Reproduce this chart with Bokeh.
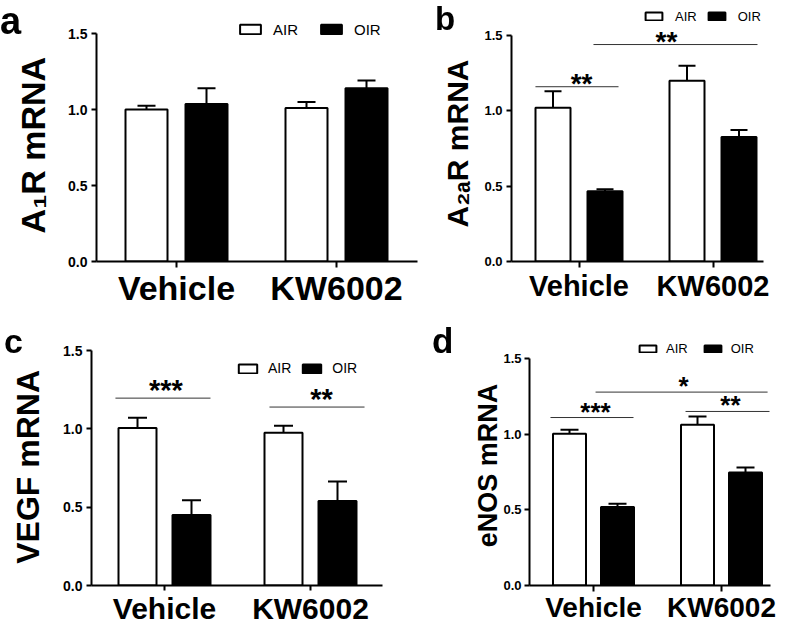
import numpy as np
from bokeh.plotting import figure
from bokeh.models import (Range1d, FixedTicker, NumeralTickFormatter, Legend, LegendItem,
                          ColumnDataSource, Whisker, TeeHead, Div)
from bokeh.layouts import column, row
from bokeh.core.properties import value
from bokeh.embed import file_html
from bokeh.resources import INLINE

FONT = "Liberation Sans"

# ---------------- data ----------------
categories = ["Vehicle", "KW6002"]
groups = ["AIR", "OIR"]
y_ticks = [0.0, 0.5, 1.0, 1.5]
panel_letters = ["a", "b", "c", "d"]
y_titles = ["A\u2081R mRNA", "A\u2082\u2090R mRNA", "VEGF mRNA", "eNOS mRNA"]

# panel a  (A1R mRNA)
a_air = [1.00, 1.01]
a_air_err = [1.024, 1.05]
a_oir = [1.037, 1.14]
a_oir_err = [1.14, 1.19]

# panel b  (A2AR mRNA)
b_air = [1.02, 1.20]
b_air_err = [1.13, 1.30]
b_oir = [0.467, 0.827]
b_oir_err = [0.48, 0.873]
b_sig_x0 = [-0.325, 0.108]
b_sig_x1 = [0.295, 1.332]
b_sig_y = [1.16, 1.44]
b_sig_xm = [0.019, 0.653]
b_sig_text = ["**", "**"]

# panel c  (VEGF mRNA)
c_air = [1.006, 0.975]
c_air_err = [1.07, 1.02]
c_oir = [0.45, 0.54]
c_oir_err = [0.544, 0.664]
c_sig_x0 = [-0.336, 0.719]
c_sig_x1 = [0.315, 1.37]
c_sig_y = [1.196, 1.139]
c_sig_xm = [0.01, 1.075]
c_sig_text = ["***", "**"]

# panel d  (eNOS mRNA)
d_air = [1.002, 1.063]
d_air_err = [1.03, 1.117]
d_oir = [0.518, 0.747]
d_oir_err = [0.54, 0.78]
d_sig_x0 = [-0.336, 0.016, 0.719]
d_sig_x1 = [0.3125, 1.36, 1.375]
d_sig_y = [1.11, 1.278, 1.15]
d_sig_xm = [0.016, 0.703, 1.07]
d_sig_text = ["***", "*", "**"]

# ---------------- layout (pixel geometry, page coordinates) ----------------
# ox/oy: canvas origin; fl/fr/ft: frame edges; y0/y15: pixel rows of 0 and 1.5
# (the frame bottom sits at y0); c0/c1: pixel columns of the two category ticks
# tpad: no-break spaces appended to the axis title to move it along the axis
SPEC_A = dict(ox=0, oy=0, w=430, h=311, fl=96, fr=417, ft=0, y0=261, y15=33,
              c0=176, c1=336, bar_w=42, off=30, cap=18,
              xfont=34, xstand=1, xtick=6, yfont=14, ystand=4,
              tfont=34, tstand=13, tpad=3,
              lfont=15, lbox=237, lcy=29, gw=26, gh=12, lst=10, lsp=20,
              star_font=28, star_off=0)
SPEC_B = dict(ox=430, oy=0, w=357, h=311, fl=511, fr=763, ft=0, y0=261, y15=35,
              c0=578.5, c1=712.5, bar_w=35, off=26, cap=17,
              xfont=29, xstand=2, xtick=6, yfont=13, ystand=4,
              tfont=30, tstand=7, tpad=3,
              lfont=13, lbox=643, lcy=16.5, gw=21, gh=10, lst=11, lsp=9,
              star_font=28, star_off=-3.5)
SPEC_C = dict(ox=0, oy=311, w=430, h=319, fl=91, fr=382, ft=330, y0=585, y15=350,
              c0=164, c1=310, bar_w=38, off=27, cap=19,
              xfont=30, xstand=1, xtick=5, yfont=14, ystand=4,
              tfont=32, tstand=14, tpad=2,
              lfont=14, lbox=236, lcy=368, gw=23, gh=11, lst=9, lsp=9,
              star_font=29, star_off=-8)
SPEC_D = dict(ox=430, oy=311, w=357, h=319, fl=529, fr=770, ft=330, y0=585, y15=358,
              c0=593, c1=721, bar_w=33, off=24, cap=18,
              xfont=28, xstand=0, xtick=6, yfont=13, ystand=3,
              tfont=27, tstand=-3, tpad=2,
              lfont=13, lbox=637, lcy=349, gw=21, gh=9, lst=8, lsp=14,
              star_font=26, star_off=-6)

# panel letters: (left, baseline, font size) in page pixels
LETTER_POS = [(0, 35, 38), (435, 30, 33), (4, 353, 34), (432, 353, 35)]


def build(s, title, air, air_err, oir, oir_err, sig=None):
    ppx = s["c1"] - s["c0"]
    ppy = (s["y0"] - s["y15"]) / 1.5

    def X(px):
        return (px - s["c0"]) / ppx

    def Y(py):
        return (s["y0"] - py) / ppy

    p = figure(width=s["w"], height=s["h"], output_backend="svg", toolbar_location=None,
               x_range=Range1d(X(s["fl"]), X(s["fr"])),
               y_range=Range1d(0, Y(s["ft"])),
               min_border_left=s["fl"] - s["ox"], min_border_right=s["ox"] + s["w"] - s["fr"],
               min_border_top=s["ft"] - s["oy"], min_border_bottom=s["oy"] + s["h"] - s["y0"])
    p.xgrid.visible = False
    p.ygrid.visible = False
    p.outline_line_color = None
    p.background_fill_alpha = 0
    p.border_fill_alpha = 0

    idx = np.arange(len(categories))
    half = s["off"] / ppx
    bw = s["bar_w"] / ppx
    src_air = ColumnDataSource(dict(x=idx - half, top=air, err=air_err))
    src_oir = ColumnDataSource(dict(x=idx + half, top=oir, err=oir_err))
    for src in (src_air, src_oir):
        p.add_layout(Whisker(base="x", lower="top", upper="err", source=src, dimension="height",
                             line_width=2, line_color="black", lower_head=None,
                             upper_head=TeeHead(size=s["cap"], line_width=2, line_color="black")))
    r_air = p.vbar(x="x", top="top", width=bw, source=src_air, fill_color="white",
                   line_color="black", line_width=2)
    r_oir = p.vbar(x="x", top="top", width=bw, source=src_oir, fill_color="black",
                   line_color="black", line_width=2)

    if sig is not None:
        x0, x1, yv, xm, txt = sig
        p.segment(x0=x0, y0=yv, x1=x1, y1=yv, line_color="#333333", line_width=1)
        p.text(x=xm, y=yv, text=txt, text_align="center", text_baseline="alphabetic",
               y_offset=s["star_off"], text_font=value(FONT), text_font_style="bold",
               text_font_size=value(f'{s["star_font"]}px'), text_color="black")

    # y axis
    yax = p.yaxis[0]
    yax.ticker = FixedTicker(ticks=y_ticks)
    yax.formatter = NumeralTickFormatter(format="0.0")
    yax.bounds = (0, 1.5)
    yax.major_label_text_font = FONT
    yax.major_label_text_font_style = "bold"
    yax.major_label_text_color = "black"
    yax.major_label_text_font_size = f'{s["yfont"]}px'
    yax.major_label_standoff = s["ystand"]
    yax.major_tick_out = 5
    yax.major_tick_in = 0
    yax.minor_tick_out = 0
    yax.minor_tick_in = 0
    yax.axis_line_width = 2
    yax.axis_line_color = "black"
    yax.major_tick_line_width = 2
    yax.axis_label = title + "\u00a0" * s["tpad"]
    yax.axis_label_text_font = FONT
    yax.axis_label_text_font_style = "bold"
    yax.axis_label_text_color = "black"
    yax.axis_label_text_font_size = f'{s["tfont"]}px'
    yax.axis_label_standoff = s["tstand"]

    # x axis
    xax = p.xaxis[0]
    xax.ticker = FixedTicker(ticks=[int(i) for i in idx])
    xax.major_label_overrides = {int(i): c for i, c in zip(idx, categories)}
    xax.major_label_text_font = FONT
    xax.major_label_text_font_style = "bold"
    xax.major_label_text_color = "black"
    xax.major_label_text_font_size = f'{s["xfont"]}px'
    xax.major_label_standoff = s["xstand"]
    xax.major_tick_out = s["xtick"]
    xax.major_tick_in = 0
    xax.minor_tick_out = 0
    xax.minor_tick_in = 0
    xax.axis_line_width = 2
    xax.axis_line_color = "black"
    xax.major_tick_line_width = 2

    # legend
    H = max(s["gh"], s["lfont"] * 1.15)
    legend = Legend(items=[LegendItem(label=groups[0], renderers=[r_air]),
                           LegendItem(label=groups[1], renderers=[r_oir])],
                    orientation="horizontal",
                    location=(s["lbox"] - s["fl"], (s["y0"] - s["lcy"]) - H / 2),
                    padding=0, margin=0, spacing=s["lsp"], label_standoff=s["lst"],
                    glyph_width=s["gw"], glyph_height=s["gh"], label_height=s["gh"],
                    label_text_font=FONT, label_text_font_size=f'{s["lfont"]}px',
                    label_text_color="black",
                    background_fill_alpha=0, border_line_alpha=0)
    p.add_layout(legend)
    return p


pa = build(SPEC_A, y_titles[0], a_air, a_air_err, a_oir, a_oir_err)
pb = build(SPEC_B, y_titles[1], b_air, b_air_err, b_oir, b_oir_err,
           (b_sig_x0, b_sig_x1, b_sig_y, b_sig_xm, b_sig_text))
pc = build(SPEC_C, y_titles[2], c_air, c_air_err, c_oir, c_oir_err,
           (c_sig_x0, c_sig_x1, c_sig_y, c_sig_xm, c_sig_text))
pd = build(SPEC_D, y_titles[3], d_air, d_air_err, d_oir, d_oir_err,
           (d_sig_x0, d_sig_x1, d_sig_y, d_sig_xm, d_sig_text))

# panel letters, pinned to page coordinates above the plots
letters_html = "".join(
    f'<div style="position:fixed;left:{x}px;top:{b - 0.6465 * f:.1f}px;'
    f"font-family:'{FONT}';font-weight:bold;font-size:{f}px;line-height:{0.6 * f:.1f}px;"
    f'color:#000;z-index:10;white-space:nowrap;margin:0;padding:0;">{t}</div>'
    for t, (x, b, f) in zip(panel_letters, LETTER_POS))
letters = Div(text=letters_html, width=0, height=0, margin=(0, 0, 0, 0))

layout = column(row(pa, pb, spacing=0), row(pc, pd, spacing=0), letters, spacing=0)
open("out.html", "w").write(file_html(layout, INLINE))
